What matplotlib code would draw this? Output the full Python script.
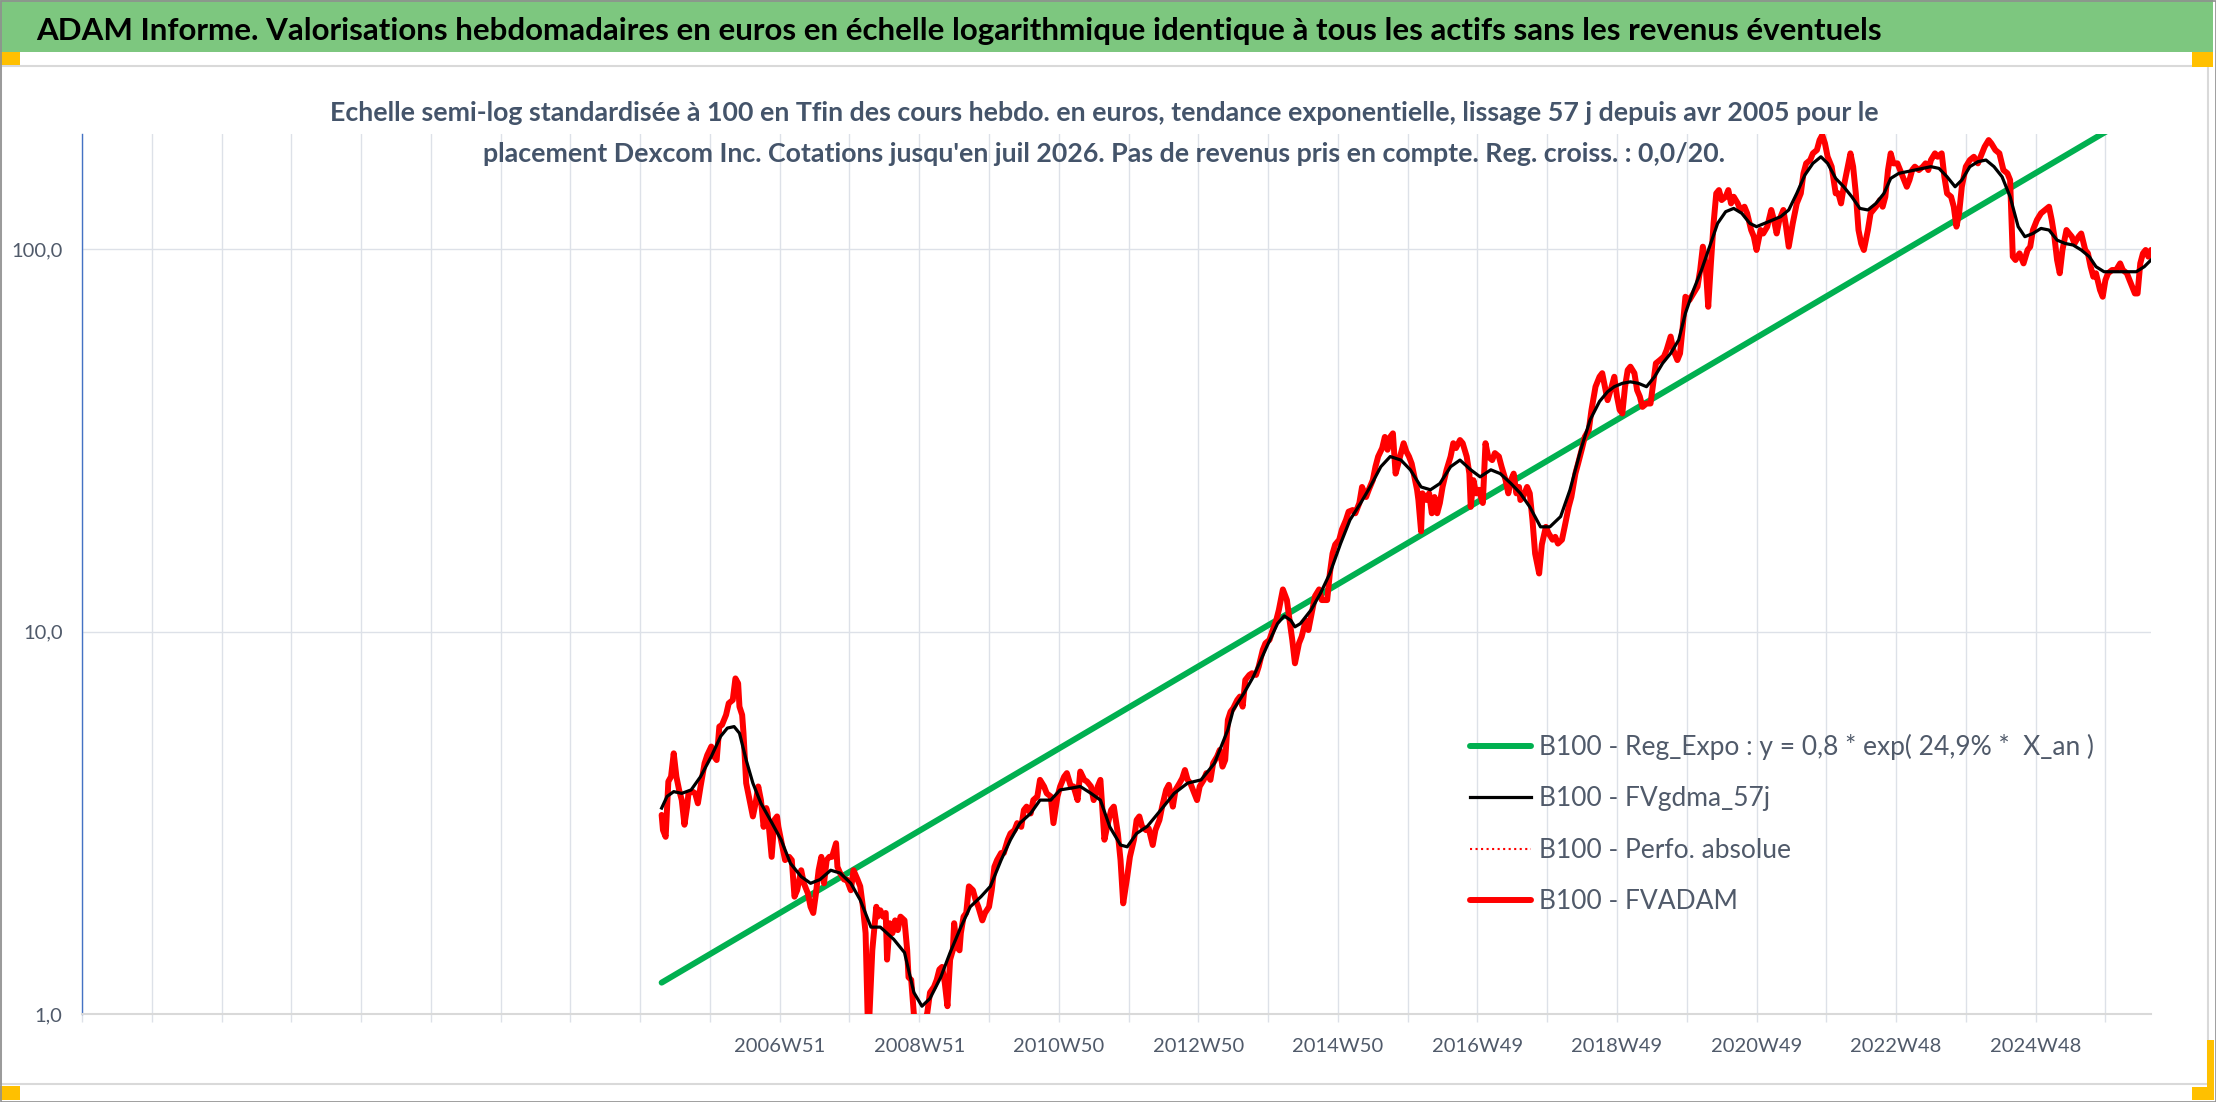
import matplotlib
matplotlib.use("Agg")
import matplotlib.pyplot as plt
from matplotlib.patches import Rectangle
from matplotlib.ticker import NullLocator

plt.rcParams['font.family'] = ['Lato', 'DejaVu Sans']

# textes
titre = ("ADAM Informe. Valorisations hebdomadaires en euros en échelle logarithmique "
         "identique à tous les actifs sans les revenus éventuels")
sous_titre = ["Echelle semi-log standardisée à 100 en Tfin des cours hebdo. en euros, tendance "
              "exponentielle, lissage 57 j depuis avr 2005 pour le",
              "placement Dexcom Inc. Cotations jusqu'en juil 2026. Pas de revenus pris en compte. "
              "Reg. croiss. : 0,0/20."]
noms = ["B100 - Reg_Expo : y = 0,8 * exp( 24,9% *  X_an )", "B100 - FVgdma_57j",
        "B100 - Perfo. absolue", "B100 - FVADAM"]
etiquettes_x = ["2006W51", "2008W51", "2010W50", "2012W50", "2014W50",
                "2016W49", "2018W49", "2020W49", "2022W48", "2024W48"]
rang_etiquettes = [10, 12, 14, 16, 18, 20, 22, 24, 26, 28]   # n° de graduation (1 par 52 semaines)
ticks_y = [1, 10, 100]
etiquettes_y = ["1,0", "10,0", "100,0"]

# données (semaine depuis le début de l'axe, valeur base 100)
reg_sem = [432, 1542]
reg_val = [1.21, 238]

fvadam_sem = [432, 433, 435, 437, 439, 441, 443, 445, 447, 449, 451, 452, 455, 457, 459, 461, 464, 466, 469, 471,
              473, 475, 477, 480, 482, 485, 487, 489, 490, 492, 493, 495, 496, 498, 500, 502, 504, 506, 508, 510,
              511, 514, 516, 518, 519, 522, 524, 527, 529, 531, 533, 536, 538, 541, 543, 545, 547, 549, 551, 553,
              555, 557, 559, 562, 563, 565, 568, 570, 573, 575, 578, 580, 582, 584, 586, 589, 592, 593, 595, 597,
              599, 600, 602, 604, 606, 608, 610, 613, 615, 616, 618, 621, 625, 630, 632, 635, 637, 639, 641, 643,
              645, 647, 649, 650, 652, 654, 655, 657, 659, 661, 664, 666, 668, 671, 673, 676, 678, 680, 682, 685,
              687, 690, 692, 695, 697, 700, 702, 704, 707, 709, 712, 714, 717, 719, 722, 724, 727, 729, 732, 734,
              737, 739, 742, 744, 747, 749, 752, 754, 757, 759, 762, 764, 767, 769, 772, 774, 776, 779, 781, 784,
              786, 788, 790, 793, 795, 798, 800, 803, 805, 808, 810, 813, 815, 818, 820, 822, 824, 826, 829, 831,
              833, 836, 838, 841, 843, 846, 848, 850, 852, 854, 856, 858, 861, 863, 865, 867, 870, 872, 875, 877,
              880, 882, 885, 887, 890, 892, 895, 898, 900, 902, 904, 907, 909, 912, 914, 917, 919, 922, 924, 928,
              930, 932, 934, 937, 939, 942, 944, 947, 949, 952, 954, 957, 959, 962, 964, 966, 969, 971, 973, 975,
              977, 979, 981, 983, 985, 987, 989, 991, 993, 995, 996, 998, 999, 1002, 1004, 1006, 1008, 1010, 1012, 1014,
              1017, 1020, 1022, 1024, 1027, 1029, 1032, 1034, 1035, 1037, 1039, 1041, 1044, 1046, 1048, 1051, 1053, 1056, 1058, 1061,
              1063, 1065, 1067, 1069, 1071, 1072, 1074, 1077, 1079, 1081, 1083, 1086, 1088, 1091, 1093, 1096, 1098, 1100, 1103, 1105,
              1108, 1110, 1113, 1115, 1118, 1120, 1123, 1125, 1128, 1131, 1133, 1135, 1137, 1140, 1142, 1144, 1146, 1148, 1150, 1152,
              1154, 1157, 1159, 1161, 1163, 1166, 1169, 1171, 1173, 1176, 1179, 1181, 1184, 1186, 1189, 1191, 1193, 1195, 1198, 1201,
              1204, 1206, 1208, 1210, 1212, 1214, 1216, 1218, 1220, 1222, 1225, 1227, 1229, 1231, 1234, 1236, 1239, 1241, 1244, 1246,
              1248, 1251, 1253, 1256, 1259, 1261, 1263, 1265, 1268, 1270, 1272, 1275, 1278, 1281, 1283, 1285, 1288, 1290, 1293, 1295,
              1297, 1299, 1301, 1304, 1307, 1309, 1311, 1313, 1315, 1318, 1320, 1322, 1324, 1326, 1328, 1331, 1333, 1335, 1337, 1340,
              1342, 1344, 1346, 1348, 1350, 1353, 1355, 1357, 1360, 1362, 1364, 1366, 1369, 1372, 1374, 1376, 1378, 1381, 1383, 1386,
              1388, 1390, 1393, 1395, 1397, 1399, 1401, 1404, 1407, 1410, 1413, 1415, 1418, 1421, 1423, 1426, 1429, 1432, 1435, 1437,
              1439, 1441, 1444, 1447, 1450, 1452, 1454, 1457, 1460, 1463, 1466, 1468, 1470, 1472, 1474, 1476, 1479, 1481, 1483, 1485,
              1488, 1490, 1493, 1495, 1497, 1499, 1501, 1504, 1506, 1508, 1510, 1513, 1516, 1519, 1521, 1524, 1526, 1528, 1530, 1532,
              1534, 1536, 1538, 1540, 1542]
fvadam_val = [3.32, 3.03, 2.91, 4.06, 4.18, 4.81, 4.18, 3.86, 3.63, 3.13, 3.49, 3.78, 3.82, 3.78, 3.56, 3.94, 4.53, 4.76, 5.01, 4.72,
              4.62, 5.65, 5.71, 6.06, 6.50, 6.63, 7.55, 7.33, 6.37, 6.06, 5.43, 4.02, 3.86, 3.56, 3.29, 3.56, 3.94, 3.63, 3.09, 3.46,
              3.35, 2.58, 3.22, 3.29, 3.09, 2.74, 2.53, 2.58, 2.53, 2.03, 2.11, 2.38, 2.20, 2.07, 1.91, 1.84, 2.07, 2.38, 2.58, 2.20,
              2.53, 2.58, 2.58, 2.80, 2.43, 2.34, 2.25, 2.25, 2.11, 2.38, 2.25, 2.16, 1.91, 1.63, 0.85, 1.47, 1.91, 1.80, 1.87, 1.80,
              1.84, 1.39, 1.73, 1.63, 1.76, 1.66, 1.80, 1.76, 1.47, 1.25, 1.23, 0.90, 0.85, 1.01, 1.14, 1.18, 1.23, 1.31, 1.33, 1.21,
              1.05, 1.39, 1.47, 1.73, 1.50, 1.47, 1.63, 1.80, 1.84, 2.16, 2.11, 1.99, 1.91, 1.76, 1.84, 1.91, 2.11, 2.43, 2.53, 2.64,
              2.64, 2.86, 2.97, 3.03, 3.16, 3.09, 3.42, 3.49, 3.35, 3.63, 3.71, 4.10, 3.94, 3.78, 3.71, 3.16, 3.71, 3.94, 4.18, 4.27,
              3.94, 3.94, 3.63, 4.31, 4.10, 4.06, 3.94, 3.63, 3.94, 4.10, 2.86, 3.09, 3.42, 3.49, 2.97, 2.53, 1.95, 2.29, 2.58, 2.86,
              3.22, 3.29, 3.10, 3.03, 3.06, 2.77, 3.03, 3.22, 3.49, 3.86, 3.98, 3.49, 3.86, 4.02, 4.14, 4.35, 4.10, 4.02, 3.78, 3.63,
              3.94, 4.10, 4.27, 4.10, 4.53, 4.72, 4.91, 4.44, 4.62, 5.88, 6.18, 6.31, 6.63, 6.77, 6.37, 7.48, 7.71, 7.79, 7.71, 8.11,
              8.96, 9.33, 9.52, 10.0, 10.7, 11.4, 12.9, 12.1, 10.7, 9.52, 8.27, 9.33, 9.71, 10.7, 10.1, 11.4, 12.4, 12.9, 12.1, 12.1,
              14.2, 16.0, 16.9, 17.4, 18.5, 19.6, 20.6, 20.8, 20.4, 21.7, 23.9, 22.5, 23.5, 24.9, 27.0, 28.7, 30.2, 32.3, 29.9, 32.3,
              33.0, 25.9, 27.5, 29.3, 31.1, 29.6, 28.7, 27.5, 25.4, 23.5, 22.1, 18.3, 23.0, 22.1, 23.0, 20.4, 22.5, 20.4, 21.7, 23.9,
              26.5, 28.7, 31.1, 30.2, 31.7, 31.1, 28.7, 25.9, 21.2, 24.9, 23.0, 23.5, 21.7, 31.1, 28.7, 28.1, 29.3, 28.7, 27.0, 24.9,
              23.0, 24.9, 25.9, 23.0, 23.9, 22.1, 22.5, 23.9, 23.0, 19.6, 16.0, 14.2, 16.9, 18.8, 18.1, 17.4, 17.7, 17.0, 17.4, 18.8,
              21.2, 22.5, 25.9, 27.5, 30.2, 32.3, 33.7, 38.0, 43.7, 46.4, 47.4, 43.7, 40.3, 43.7, 46.4, 41.2, 38.0, 37.2, 43.7, 48.3,
              49.3, 47.4, 42.8, 41.2, 38.7, 39.5, 39.5, 44.6, 50.3, 51.3, 52.4, 54.5, 59.1, 54.5, 51.3, 53.4, 62.7, 75.1, 73.6, 76.6,
              79.8, 88.2, 101.5, 91.8, 70.7, 91.8, 116.8, 139.9, 142.7, 134.4, 137.1, 142.7, 131.7, 137.1, 131.7, 126.6, 129.1, 124.1, 112.2, 107.8,
              99.5, 112.2, 109.9, 114.5, 126.6, 119.2, 109.9, 119.2, 126.6, 114.5, 101.5, 116.8, 131.7, 139.9, 157.8, 167.6, 171.0, 178.0, 181.6, 192.8,
              198.7, 189.0, 174.4, 164.3, 139.9, 139.9, 131.7, 145.6, 157.8, 178.0, 164.3, 139.9, 112.2, 103.5, 99.5, 112.2, 124.1, 126.6, 129.1, 134.4,
              129.1, 137.1, 161.0, 178.0, 167.6, 167.6, 161.0, 154.6, 145.6, 151.6, 161.0, 164.3, 161.0, 164.3, 167.6, 161.0, 171.0, 178.0, 174.4, 178.0,
              154.6, 139.9, 137.1, 129.1, 114.5, 124.1, 145.6, 164.3, 171.0, 174.4, 167.6, 174.4, 185.2, 192.8, 189.0, 181.6, 178.0, 161.0, 157.8, 151.6,
              95.6, 93.7, 97.5, 91.8, 99.5, 101.5, 112.2, 119.2, 124.1, 126.6, 129.1, 119.2, 107.8, 93.7, 86.5, 99.5, 112.2, 109.9, 107.8, 103.5,
              107.8, 109.9, 99.5, 97.5, 90.0, 84.7, 86.5, 78.2, 75.1, 83.0, 86.5, 88.2, 88.2, 91.8, 88.2, 86.5, 83.0, 79.8, 76.6, 76.6,
              91.8, 97.5, 99.5, 95.6, 99.5]

gdma_sem = [432, 436, 441, 447, 454, 461, 469, 476, 481, 486, 490, 495, 500, 506, 513, 521, 528, 536, 543, 550,
            558, 565, 573, 580, 588, 595, 605, 613, 620, 626, 632, 640, 647, 655, 662, 670, 677, 685, 692, 699,
            707, 714, 722, 729, 737, 744, 752, 759, 766, 774, 779, 786, 794, 804, 814, 824, 834, 844, 849, 854,
            858, 866, 873, 883, 891, 896, 901, 904, 908, 916, 923, 930, 938, 945, 953, 960, 968, 975, 983, 990,
            998, 1005, 1012, 1020, 1027, 1035, 1042, 1050, 1057, 1065, 1072, 1079, 1087, 1094, 1102, 1109, 1117, 1124, 1131, 1137,
            1142, 1148, 1154, 1160, 1166, 1172, 1178, 1184, 1190, 1195, 1201, 1207, 1213, 1219, 1225, 1231, 1237, 1243, 1248, 1254,
            1260, 1266, 1272, 1278, 1284, 1290, 1296, 1301, 1307, 1313, 1319, 1325, 1331, 1337, 1343, 1348, 1354, 1360, 1366, 1372,
            1378, 1384, 1390, 1396, 1401, 1407, 1413, 1419, 1425, 1431, 1437, 1443, 1448, 1454, 1460, 1466, 1472, 1478, 1484, 1490,
            1496, 1501, 1507, 1513, 1519, 1525, 1531, 1537, 1542]
gdma_val = [3.46, 3.71, 3.82, 3.78, 3.86, 4.18, 4.72, 5.33, 5.60, 5.65, 5.43, 4.62, 4.02, 3.56, 3.22, 2.86, 2.48, 2.29, 2.20, 2.25,
            2.38, 2.34, 2.20, 1.99, 1.69, 1.69, 1.57, 1.45, 1.14, 1.05, 1.10, 1.25, 1.45, 1.69, 1.91, 2.03, 2.16, 2.53, 2.86, 3.16,
            3.35, 3.63, 3.63, 3.86, 3.90, 3.94, 3.78, 3.63, 3.09, 2.77, 2.74, 2.97, 3.10, 3.42, 3.78, 4.02, 4.10, 4.53, 5.01, 5.54,
            6.25, 6.91, 7.63, 9.14, 10.5, 11.0, 10.7, 10.3, 10.5, 11.4, 12.6, 14.2, 17.0, 19.6, 21.7, 23.9, 27.0, 28.7, 28.1, 26.5,
            23.9, 23.5, 24.4, 27.0, 28.1, 26.5, 25.4, 26.5, 25.9, 24.4, 23.0, 21.2, 18.8, 18.8, 20.0, 23.5, 29.9, 35.8, 40.0, 42.4,
            43.7, 44.6, 45.0, 44.6, 43.7, 46.4, 50.3, 53.4, 57.9, 68.0, 78.2, 88.2, 101.5, 116.8, 125.3, 127.8, 124.1, 116.8, 114.5, 116.8,
            119.2, 121.6, 126.6, 139.9, 156.2, 167.6, 174.4, 167.6, 153.1, 145.6, 137.1, 127.8, 126.6, 131.7, 139.9, 153.1, 157.8, 159.4, 161.0, 162.6,
            164.3, 162.6, 154.6, 145.6, 151.6, 164.3, 169.3, 171.0, 164.3, 154.6, 137.1, 114.5, 107.8, 109.9, 113.3, 112.2, 105.6, 103.5, 102.5, 99.5,
            95.6, 90.0, 87.3, 87.3, 87.3, 87.3, 87.3, 90.0, 93.7]

W, H = 2216, 1102
fig = plt.figure(figsize=(W / 100, H / 100), dpi=100)


def boite(x0, y0, x1, y1, **kw):
    # rectangle en pixels, origine en haut a gauche
    fig.add_artist(Rectangle((x0 / W, 1 - y1 / H), (x1 - x0) / W, (y1 - y0) / H,
                             transform=fig.transFigure, **kw))


def ajuste(t, largeur):
    r = fig.canvas.get_renderer()
    w = t.get_window_extent(r).width
    t.set_fontsize(t.get_fontsize() * largeur / w)


# cadre, bandeau titre, poignées orange
boite(1, 66, 2208, 1084, facecolor='none', edgecolor='#d9d9d9', lw=1.5)
boite(0, 0, 2213, 52, facecolor='#7dc77f', edgecolor='none')
boite(0, 52, 20, 65, facecolor='#ffc000', edgecolor='none')
boite(2192, 52, 2213, 67, facecolor='#ffc000', edgecolor='none')
boite(0, 1086, 20, 1100, facecolor='#ffc000', edgecolor='none')
boite(2207, 1040, 2214, 1100, facecolor='#ffc000', edgecolor='none')
boite(2192, 1087, 2214, 1100, facecolor='#ffc000', edgecolor='none')
boite(0.5, 0.5, W - 0.5, H - 0.5, facecolor='none', edgecolor='#8f8f8f', lw=1.2)

t = fig.text(36 / W, 1 - 40 / H, titre, fontsize=24, fontweight='bold', color='black',
             ha='left', va='baseline')
ajuste(t, 1845)
s1 = fig.text(1104 / W, 1 - 121 / H, sous_titre[0], fontsize=18, fontweight='bold',
              color='#44546a', ha='center', va='baseline')
ajuste(s1, 1552)
fig.text(1104 / W, 1 - 162 / H, sous_titre[1], fontsize=s1.get_fontsize(), fontweight='bold',
         color='#44546a', ha='center', va='baseline')

ax = fig.add_axes([82 / W, 1 - 1014.3 / H, (2151 - 82) / W, (1014.3 - 134) / H])
ax.set_yscale('log')

l_reg, = ax.plot(reg_sem, reg_val, color='#00b050', lw=4.3, solid_capstyle='round', zorder=2)
l_abs, = ax.plot(fvadam_sem, fvadam_val, color='red', lw=1.5, ls=':', zorder=2.5)
l_fva, = ax.plot(fvadam_sem, fvadam_val, color='#ff0000', lw=4.3, solid_joinstyle='round',
                 solid_capstyle='round', zorder=3)
l_gdm, = ax.plot(gdma_sem, gdma_val, color='black', lw=2.3, solid_joinstyle='round', zorder=4)

ax.set_xlim(0, 1542)
ax.set_ylim(1, 200)

grille = list(range(0, 1543, 52))
ax.set_xticks(grille)
lab = [''] * len(grille)
for k, e in zip(rang_etiquettes, etiquettes_x):
    lab[k] = e
ax.set_xticklabels(lab)
ax.set_yticks(ticks_y)
ax.set_yticklabels(etiquettes_y)
ax.yaxis.set_minor_locator(NullLocator())

ax.grid(True, which='major', color='#dde1e8', lw=1.0)
ax.set_axisbelow(True)
ax.tick_params(axis='x', length=5.8, width=1.0, color='#dde1e8', pad=11.5,
               labelsize=14.5, labelcolor='#505a6a')
ax.tick_params(axis='y', length=0, pad=14, labelsize=14.5, labelcolor='#505a6a')
for c in ['top', 'right']:
    ax.spines[c].set_visible(False)
ax.spines['bottom'].set_color('#d9d9d9')
ax.spines['bottom'].set_linewidth(1.5)
ax.spines['left'].set_color('#4472c4')
ax.spines['left'].set_linewidth(1.0)

fig.legend([l_reg, l_gdm, l_abs, l_fva], noms, loc='upper left',
           bbox_to_anchor=(1470 / W, 1 - 734 / H), frameon=False, borderpad=0,
           borderaxespad=0, handlelength=2.3, handletextpad=0.3, labelspacing=1.0,
           fontsize=19, labelcolor='#505a6a')

fig.savefig('out.png', dpi=100)
